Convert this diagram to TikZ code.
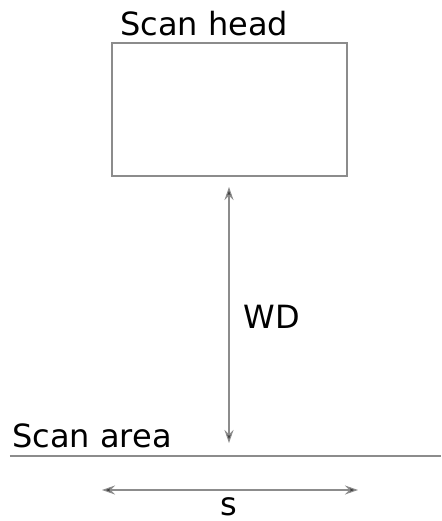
\documentclass[tikz,border=0pt]{standalone}
\usepackage{fontspec}
\setmainfont{DejaVu Sans}
\usetikzlibrary{arrows.meta}
\begin{document}
\begin{tikzpicture}[x=0.5pt,y=-0.5pt,
  lbl/.style={inner sep=0pt,font=\fontsize{16}{19}\selectfont,text=black},
  guide/.style={draw=black!45,line width=0.55pt},
  dim/.style={guide,{Stealth[length=6.5pt,width=4.5pt,fill=black!75]}-{Stealth[length=6.5pt,width=4.5pt,fill=black!75]}}]
\useasboundingbox (0,0) rectangle (441,521);
% scan head housing
\node[draw=black!45,line width=0.7pt,minimum width=117.5pt,minimum height=66.5pt,inner sep=0pt] (head) at (229.5,109.5) {};
\node[lbl,anchor=base west] (headlbl) at (120,35) {Scan head};
% surface of the scanned area
\coordinate (surfL) at (10,456);
\coordinate (surfR) at (441,456);
\draw[guide] (surfL) -- (surfR);
\node[lbl,anchor=base west] (arealbl) at (12,447) {Scan area};
% working distance
\coordinate (wdtop) at (229,187);
\coordinate (wdbot) at (229,443);
\draw[dim] (wdtop) -- (wdbot);
\node[lbl,anchor=base west] (wd) at (243,328) {WD};
% scan width
\coordinate (sL) at (102,490);
\coordinate (sR) at (358,490);
\draw[dim] (sL) -- (sR);
\node[lbl,anchor=base] (s) at (229,515) {s};
\end{tikzpicture}
\end{document}
